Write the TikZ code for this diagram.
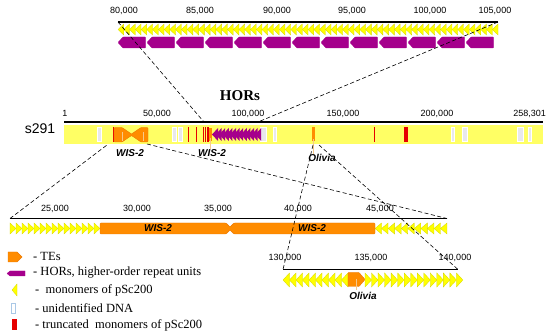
\documentclass[tikz,border=0pt]{standalone}
\usepackage{fontspec}
\setmainfont{Liberation Serif}
\setsansfont{Liberation Sans}
\usetikzlibrary{positioning}
\definecolor{monoyel}{RGB}{255, 255, 0}
\definecolor{monoedge}{RGB}{215, 215, 0}
\definecolor{baryel}{RGB}{255, 255, 100}
\definecolor{horpurple}{RGB}{165, 0, 140}
\definecolor{teorange}{RGB}{255, 140, 0}
\definecolor{teedge}{RGB}{235, 120, 0}
\definecolor{tepale}{RGB}{245, 200, 140}
\definecolor{truncred}{RGB}{230, 0, 0}
\definecolor{unidgray}{RGB}{232, 232, 236}
\definecolor{unidblue}{RGB}{170, 200, 230}

\tikzset{
  mono/.style={fill=monoyel, draw=monoedge, line width=0.3pt},
  horunit/.style={fill=horpurple, draw=horpurple, line width=0.3pt},
  teunit/.style={fill=teorange, draw=teedge, line width=0.4pt},
  paleline/.style={draw=tepale, line width=0.6pt},
  scaleline/.style={line width=1.4pt},
  zoomline/.style={dashed, dash pattern=on 4pt off 2.5pt, line width=0.6pt},
  poslab/.style={font=\sffamily\fontsize{9}{10}\selectfont, inner sep=0pt},
  elemlab/.style={font=\sffamily\bfseries\itshape\fontsize{10}{12}\selectfont, inner sep=0pt},
  leglab/.style={font=\fontsize{12.5}{14}\selectfont, anchor=west, inner sep=0pt},
  unid/.style={fill=unidgray, draw=white, line width=0.4pt},
  trunc/.style={fill=truncred}
}

\begin{document}
\begin{tikzpicture}[x=1pt, y=-1pt]
  \useasboundingbox (0,0) rectangle (550,334);

  % ---- top panel: 80,000 - 105,000
  \draw[scaleline] (118,22) coordinate (topL) -- (498,22) coordinate (topR);
  \foreach \x/\t in {124/{80,000}, 200/{85,000}, 277/{90,000}, 352/{95,000}, 430/{100,000}, 495/{105,000}}
    \node[poslab] (top\x) at (\x,10.5) {\t};
  \foreach \i in {0,...,65}
    \filldraw[mono] ({118+\i*5.758},29.5) -- ++(5.758,-5.5) -- ++(0,11) -- cycle;
  \foreach \i in {0,...,12}
    \filldraw[horunit, rounded corners=0.6pt] ({118+\i*29},42.5) -- ++(5,-5.5) -- ++(22.5,0) -- ++(0,11) -- ++(-22.5,0) -- cycle;

  % ---- whole sequence s291
  \node[font=\sffamily\fontsize{14}{16}\selectfont, inner sep=0pt] (seqname) at (40,129) {s291};
  \node[font=\bfseries\fontsize{15}{17}\selectfont, inner sep=0pt] (hortitle) at (240,96) {HORs};
  \fill[baryel] (64,125) rectangle (543,144);
  \draw[scaleline] (64,122) -- (543,122);
  \foreach \x/\t in {65/1, 157/{50,000}, 248/{100,000}, 343/{150,000}, 437/{200,000}}
    \node[poslab] (main\x) at (\x,113.5) {\t};
  \node[poslab, anchor=east] (mainEnd) at (546,113.5) {258,301};
  \foreach \xa/\xb in {97/101, 172/176, 178/182, 260/266, 273/276, 451/454, 462/467, 517/523, 528/531}
    \filldraw[unid] (\xa,127.5) rectangle (\xb,141);
  \foreach \xa/\xb in {112.5/113.8, 187.5/188.8, 195.5/197, 202.5/204, 205/206.3, 207/208.5, 373.5/375, 404/408}
    \fill[trunc] (\xa,127) rectangle (\xb,142);
  \foreach \i in {0,...,12}
    \fill[horpurple] ({212+\i*3.6},134.5) -- ++(6,-6.5) -- ++(0,13) -- cycle;
  % TEs in the bar
  \filldraw[teunit, rounded corners=0.8pt] (114,127.5) -- (122,127.5) -- (131.5,134) -- (141,127.5) -- (148,127.5)
    -- (148,142) -- (141,142) -- (131.5,135.5) -- (122,142) -- (114,142) -- cycle;
  \draw[paleline] (122,132) -- (122,141);
  \draw[paleline] (143,132) -- (143,141);
  \fill[teorange] (209,128) -- (211.5,128) -- (211.5,141) -- (209,141) -- cycle;
  \draw[paleline] (210,138) -- (210,149);
  \fill[teorange] (312,127.5) -- (314.5,127.5) -- (314.5,141) -- (312,141) -- cycle;
  \draw[paleline] (313,139) -- (313,155);
  \node[elemlab] (wisA) at (130,153) {WIS-2};
  \node[elemlab] (wisB) at (212,153) {WIS-2};
  \node[elemlab] (oliviaA) at (322,158) {Olivia};

  % ---- lower left panel: WIS-2 region
  \draw[scaleline] (10,218.5) coordinate (wisL) -- (447,218.5) coordinate (wisR);
  \foreach \x/\t in {55/{25,000}, 137/{30,000}, 218/{35,000}, 298/{40,000}, 380/{45,000}}
    \node[poslab] (wis\x) at (\x,209) {\t};
  \foreach \i in {0,...,14}
    \filldraw[mono] ({10+\i*6},223) -- ++(6,5.5) -- ++(-6,5.5) -- cycle;
  \foreach \i in {0,...,10}
    \filldraw[mono] ({375+\i*6.545},228.5) -- ++(6.545,-5.5) -- ++(0,11) -- cycle;
  \filldraw[teunit, rounded corners=0.8pt] (100,223) -- (226,223) -- (230,227) -- (234,223) -- (375,223)
    -- (375,234) -- (234,234) -- (230,230) -- (226,234) -- (100,234) -- cycle;
  \node[elemlab] (wisC) at (158,228.5) {WIS-2};
  \node[elemlab] (wisD) at (312,228.5) {WIS-2};

  % ---- lower right panel: Olivia region
  \draw[scaleline] (283,269.5) coordinate (olvL) -- (458,269.5) coordinate (olvR);
  \foreach \x/\t in {285/{130,000}, 371/{135,000}, 455/{140,000}}
    \node[poslab] (olv\x) at (\x,257.5) {\t};
  \foreach \i in {0,...,9}
    \filldraw[mono] ({283+\i*6.5},280) -- ++(6.5,-7) -- ++(0,14) -- cycle;
  \foreach \i in {0,...,14}
    \filldraw[mono] ({365+\i*6.53},273) -- ++(6.53,7) -- ++(-6.53,7) -- cycle;
  \filldraw[teunit, rounded corners=0.6pt] (348,272.5) -- (359,272.5) -- (365,279.5) -- (359,286.5) -- (348,286.5) -- cycle;
  \draw[paleline] (356,279) -- (356,290);
  \node[elemlab] (oliviaB) at (363,296) {Olivia};

  % ---- zoom connectors
  \coordinate (mainA) at (204,122);
  \coordinate (mainB) at (258,122);
  \coordinate (mainC) at (107,145);
  \coordinate (mainD) at (147,144);
  \coordinate (mainE) at (313,145);
  \coordinate (mainF) at (319,145);
  \draw[zoomline] (topL) -- (mainA);
  \draw[zoomline] (topR) -- (mainB);
  \draw[zoomline] (wisL) -- (mainC);
  \draw[zoomline] (mainD) -- (wisR);
  \draw[zoomline] (mainE) -- (olvL);
  \draw[zoomline] (mainF) -- (olvR);

  % ---- legend
  \filldraw[teunit] (8,252) -- (17,252) -- (22,257) -- (17,262) -- (8,262) -- cycle;
  \filldraw[horunit] (7,273.5) -- (10,271) -- (25,271) -- (25,276) -- (10,276) -- cycle;
  \filldraw[mono] (12,290) -- (17,284) -- (17,296) -- cycle;
  \draw[draw=unidblue, fill=white, line width=0.5pt] (11,303) rectangle (15,313);
  \fill[trunc] (12,319) rectangle (17,330);
  \node[leglab] (legTE) at (33,256) {- TEs};
  \node[leglab] (legHOR) at (33,273) {- HORs, higher-order repeat units};
  \node[leglab] (legMono) at (35,290.5) {-~ monomers of pSc200};
  \node[leglab] (legUnid) at (35,308) {- unidentified DNA};
  \node[leglab] (legTrunc) at (35,325) {- truncated~ monomers of pSc200};
\end{tikzpicture}
\end{document}
